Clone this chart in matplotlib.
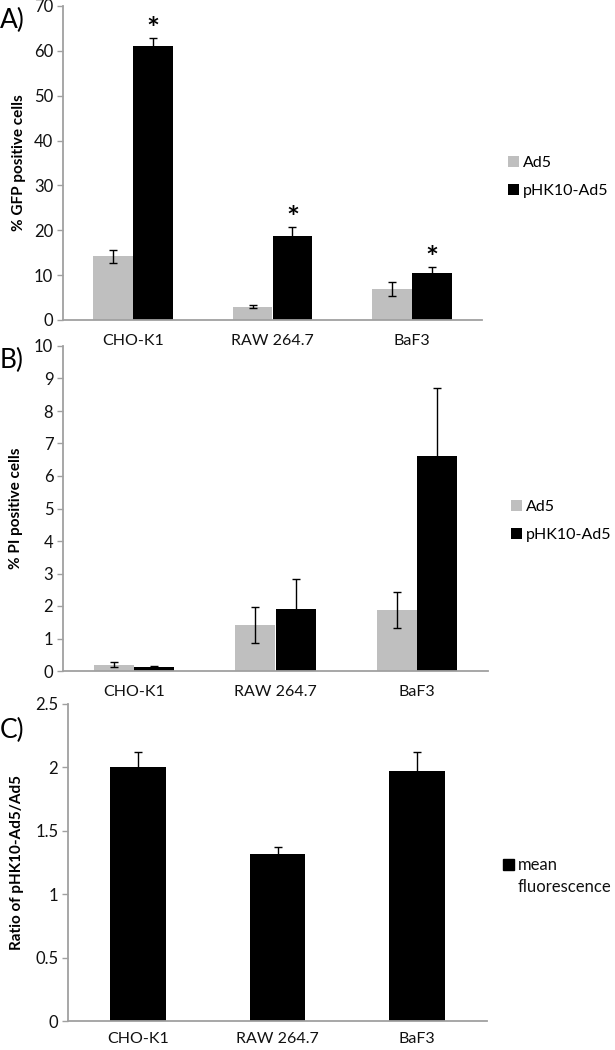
import numpy as np
import matplotlib
matplotlib.use("Agg")
import matplotlib.pyplot as plt
from matplotlib.patches import Rectangle

plt.rcParams['font.family'] = ['Lato', 'DejaVu Sans']

# donnees
cells = ["CHO-K1", "RAW 264.7", "BaF3"]
series = ["Ad5", "pHK10-Ad5"]

gfp_ad5 = [14.2, 3.0, 6.9]
gfp_ad5_err = [1.5, 0.3, 1.5]
gfp_phk = [61.0, 18.8, 10.4]
gfp_phk_err = [1.9, 1.9, 1.4]
gfp_star = [True, True, True]

pi_ad5 = [0.20, 1.42, 1.87]
pi_ad5_err = [0.08, 0.55, 0.55]
pi_phk = [0.13, 1.92, 6.62]
pi_phk_err = [0.03, 0.92, 2.09]

ratio = [2.0, 1.32, 1.97]
ratio_err = [0.12, 0.05, 0.15]
ratio_label = ["mean", "fluorescence"]

W, H = 615, 1050
grey = '#bfbfbf'
axis_col = '#a0a0a0'
txt_col = '#111111'

fig = plt.figure(figsize=(W/100, H/100), dpi=100)

def box(x0, x1, ytop, ybot):
    # pixels -> fraction de figure
    return [x0/W, 1-ybot/H, (x1-x0)/W, (ybot-ytop)/H]

def style(ax, ymax, step, xpad):
    ax.set_ylim(0, ymax)
    ax.set_yticks(np.arange(0, ymax+step/2, step))
    ax.set_xlim(-0.5, 2.5)
    ax.set_xticks(range(3))
    ax.set_xticklabels(cells)
    for s in ['top', 'right']:
        ax.spines[s].set_visible(False)
    for s in ['left', 'bottom']:
        ax.spines[s].set_color(axis_col)
        ax.spines[s].set_linewidth(1.3)
    ax.tick_params(axis='y', colors=axis_col, length=4, width=1, labelcolor=txt_col, labelsize=12, pad=3)
    ax.tick_params(axis='x', length=0, labelcolor=txt_col, labelsize=11.5, pad=xpad)

def legende(ax, xpix, ypix):
    # position en pixels de la figure
    ax.legend(loc='center left', bbox_to_anchor=(xpix/W, 1-ypix/H), bbox_transform=fig.transFigure,
              frameon=False, fontsize=11.5, borderaxespad=0, borderpad=0,
              handlelength=0.7, handleheight=0.7, handletextpad=0.25, labelspacing=0.9)

x = np.arange(3)
ek = dict(ecolor='black', elinewidth=1, capsize=3, capthick=1)

# A)
axA = fig.add_axes(box(63, 482, 6, 320))
w = 0.286
axA.bar(x - w/2, gfp_ad5, w, color=grey, yerr=gfp_ad5_err, error_kw=ek, label=series[0])
axA.bar(x + w/2, gfp_phk, w, color='black', yerr=gfp_phk_err, error_kw=ek, label=series[1])
for i in range(3):
    if gfp_star[i]:
        axA.annotate('*', (x[i] + w/2, gfp_phk[i] + gfp_phk_err[i]), xytext=(0, -4.5),
                     textcoords='offset points', ha='center', va='bottom',
                     fontsize=22, fontweight='bold')
style(axA, 70, 10, 10)
axA.set_ylabel('% GFP positive cells', fontsize=11, fontweight='bold', labelpad=6)
legende(axA, 508, 177)
fig.text(0/W, 1-20/H, 'A)', fontsize=19, va='center', ha='left')

# B)
axB = fig.add_axes(box(63, 488, 346, 671))
w = 0.283
axB.bar(x - w/2, pi_ad5, w, color=grey, yerr=pi_ad5_err, error_kw=ek, label=series[0])
axB.bar(x + w/2, pi_phk, w, color='black', yerr=pi_phk_err, error_kw=ek, label=series[1])
style(axB, 10, 1, 10)
axB.set_ylabel('% PI positive cells', fontsize=11, fontweight='bold', labelpad=8)
legende(axB, 511, 521)
fig.text(0/W, 1-360/H, 'B)', fontsize=19, va='center', ha='left')

# C)
axC = fig.add_axes(box(68, 487, 704, 1021))
axC.bar(x, ratio, 0.4, color='black', yerr=ratio_err, error_kw=ek)
style(axC, 2.5, 0.5, 8)
axC.set_yticklabels(['0', '0.5', '1', '1.5', '2', '2.5'])
axC.set_ylabel('Ratio of pHK10-Ad5/Ad5', fontsize=11, fontweight='bold', labelpad=8)
# legende a deux lignes, carre aligne sur la premiere
fig.patches.append(Rectangle((503/W, 1-870/H), 11/W, 11/H, color='black', transform=fig.transFigure))
fig.text(518/W, 1-865/H, ratio_label[0], fontsize=12, va='center', ha='left', color=txt_col)
fig.text(518/W, 1-887/H, ratio_label[1], fontsize=12, va='center', ha='left', color=txt_col)
fig.text(0/W, 1-730/H, 'C)', fontsize=19, va='center', ha='left')

fig.savefig('out.png', dpi=100)
